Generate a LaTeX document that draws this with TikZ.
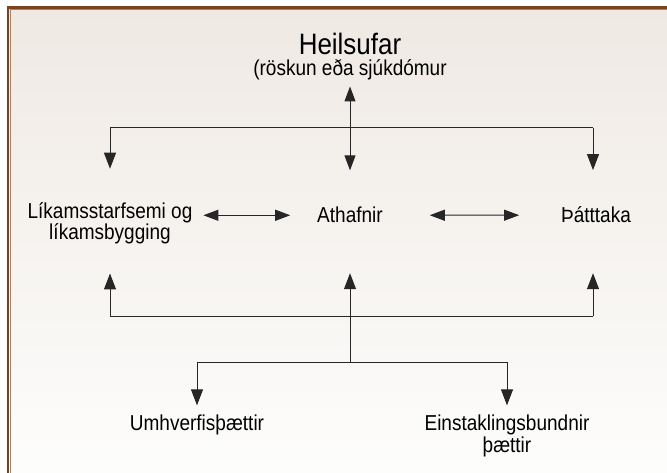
\documentclass[tikz,border=0pt]{standalone}
\usepackage{fontspec}
\setmainfont[FakeStretch=0.88]{Liberation Sans}
\usetikzlibrary{arrows.meta}

\definecolor{framebrown}{RGB}{118,68,34}
\definecolor{frameline}{RGB}{196,120,72}
\definecolor{bgtop}{RGB}{239,233,227}
\definecolor{bgbot}{RGB}{253,253,252}

\begin{document}
\begin{tikzpicture}
		[x=1pt,y=1pt,
		every node/.style={inner sep=0pt, outer sep=0pt, align=center,
			font=\fontsize{21.6}{20}\selectfont},
		bar/.style={draw=black!85, line width=1pt},
		arr/.style={bar, -{Triangle[length=16pt,width=12pt]}},
		dbl/.style={bar, {Triangle[length=15pt,width=11pt]}-{Triangle[length=15pt,width=11pt]}}]

		\useasboundingbox (0,0) rectangle (667,-473);
		\shade[top color=bgtop, bottom color=bgbot] (9.5,-9) rectangle (667,-473);
		\draw[framebrown, line width=2.6pt] (8,-473) -- (8,-7.5) -- (667,-7.5);
		\draw[frameline, line width=0.6pt] (10,-473) -- (10,-9.5) -- (667,-9.5);

		\node[anchor=base, font=\fontsize{29.5}{30}\selectfont] (heil) at (350,-55) {Heilsufar};
		\node[anchor=base] (heilsub) at (350,-76) {(röskun eða sjúkdómur};

		% base anchor sits on the last line
		\node[anchor=base] (likam) at (110,-240) {Líkamsstarfsemi og\\líkamsbygging};
		\node[anchor=base] (athaf) at (350,-223) {Athafnir};
		\node[anchor=base] (thatt) at (596,-223) {Þátttaka};

		\node[anchor=base] (umhv) at (197,-430) {Umhverfisþættir};
		\node[anchor=base, font=\fontsize{21.6}{22}\selectfont] (einst) at (507,-452) {Einstaklingsbundnir\\þættir};

		\coordinate (topL) at (110,-128);
		\coordinate (topR) at (593,-128);
		\coordinate (midL) at (110,-316);
		\coordinate (midM) at (350,-316);
		\coordinate (midR) at (593,-316);
		\coordinate (botL) at (197,-362);
		\coordinate (botM) at (350,-362);
		\coordinate (botR) at (507,-362);

		% bars
		\foreach \from/\to in {topL/topR,midL/midR,botL/botR,midM/botM}
		\draw[bar] (\from) -- (\to);

		% arrows into the boxes
		\foreach \from/\to/\gap in {topL/likam.north/34,topR/thatt.north/37,
			midL/likam.south/29,midM/athaf.south/50,midR/thatt.south/50,
			botL/umhv.north/9,botR/einst.north/9}
		\draw[arr, shorten >=\gap pt] (\from) -- (\from |- \to);

		\draw[dbl, shorten <=6pt, shorten >=37pt] (heilsub.south) -- (athaf.north);
		\draw[dbl, shorten <=11pt, shorten >=27pt] (likam.east |- athaf.west) -- (athaf.west);
		\draw[dbl, shorten <=47pt, shorten >=42pt] (athaf.east) -- (thatt.west);
\end{tikzpicture}
\end{document}
